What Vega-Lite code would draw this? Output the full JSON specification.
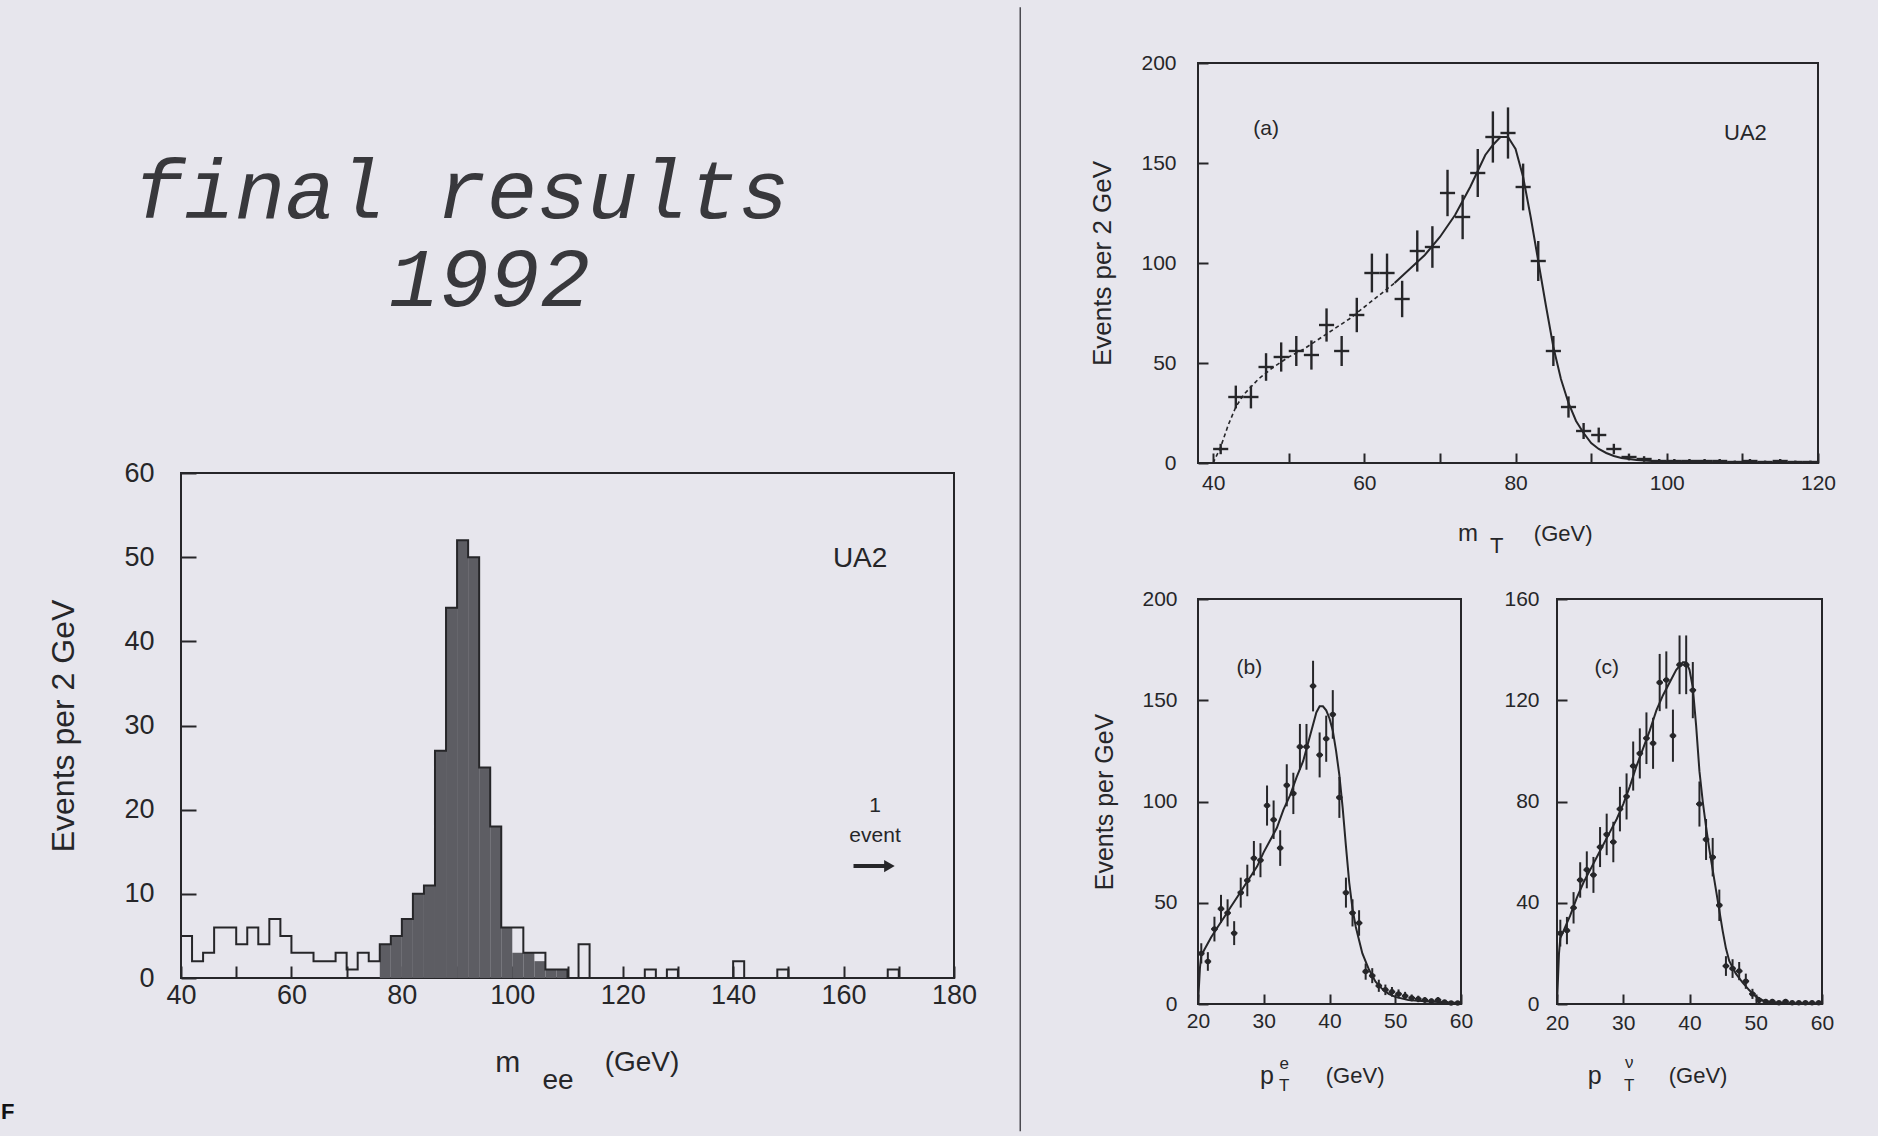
{
"$schema": "https://vega.github.io/schema/vega-lite/v6.json",
"background": "#e7e6ed",
"padding": {"left": 0, "top": 5, "right": 60, "bottom": 40},
"config": {
  "font": "Liberation Sans",
  "view": {"stroke": "#262629", "strokeWidth": 2},
  "axis": {"grid": false, "domain": false, "tickColor": "#262629", "tickWidth": 2, "labelColor": "#262629", "titleColor": "#262629", "labelFont": "Liberation Sans", "titleFont": "Liberation Sans", "titleFontWeight": "normal", "labelFlush": false, "labelOverlap": false}
},
"datasets": {
  "hist": [
    {"lo":40,"hi":42,"n":5,"s":0},{"lo":42,"hi":44,"n":2,"s":0},{"lo":44,"hi":46,"n":3,"s":0},{"lo":46,"hi":48,"n":6,"s":0},
    {"lo":48,"hi":50,"n":6,"s":0},{"lo":50,"hi":52,"n":4,"s":0},{"lo":52,"hi":54,"n":6,"s":0},{"lo":54,"hi":56,"n":4,"s":0},
    {"lo":56,"hi":58,"n":7,"s":0},{"lo":58,"hi":60,"n":5,"s":0},{"lo":60,"hi":62,"n":3,"s":0},{"lo":62,"hi":64,"n":3,"s":0},
    {"lo":64,"hi":66,"n":2,"s":0},{"lo":66,"hi":68,"n":2,"s":0},{"lo":68,"hi":70,"n":3,"s":0},{"lo":70,"hi":72,"n":1,"s":0},
    {"lo":72,"hi":74,"n":3,"s":0},{"lo":74,"hi":76,"n":2,"s":0},{"lo":76,"hi":78,"n":4,"s":4},{"lo":78,"hi":80,"n":5,"s":5},
    {"lo":80,"hi":82,"n":7,"s":7},{"lo":82,"hi":84,"n":10,"s":10},{"lo":84,"hi":86,"n":11,"s":11},{"lo":86,"hi":88,"n":27,"s":27},
    {"lo":88,"hi":90,"n":44,"s":44},{"lo":90,"hi":92,"n":52,"s":52},{"lo":92,"hi":94,"n":50,"s":50},{"lo":94,"hi":96,"n":25,"s":25},
    {"lo":96,"hi":98,"n":18,"s":18},{"lo":98,"hi":100,"n":6,"s":6},{"lo":100,"hi":102,"n":6,"s":3},{"lo":102,"hi":104,"n":3,"s":3},
    {"lo":104,"hi":106,"n":3,"s":2},{"lo":106,"hi":108,"n":1,"s":1},{"lo":108,"hi":110,"n":1,"s":1},{"lo":110,"hi":112,"n":0,"s":0},
    {"lo":112,"hi":114,"n":4,"s":0},{"lo":114,"hi":116,"n":0,"s":0},{"lo":116,"hi":118,"n":0,"s":0},{"lo":118,"hi":120,"n":0,"s":0},
    {"lo":120,"hi":122,"n":0,"s":0},{"lo":122,"hi":124,"n":0,"s":0},{"lo":124,"hi":126,"n":1,"s":0},{"lo":126,"hi":128,"n":0,"s":0},
    {"lo":128,"hi":130,"n":1,"s":0},{"lo":130,"hi":132,"n":0,"s":0},{"lo":132,"hi":134,"n":0,"s":0},{"lo":134,"hi":136,"n":0,"s":0},
    {"lo":136,"hi":138,"n":0,"s":0},{"lo":138,"hi":140,"n":0,"s":0},{"lo":140,"hi":142,"n":2,"s":0},{"lo":142,"hi":144,"n":0,"s":0},
    {"lo":144,"hi":146,"n":0,"s":0},{"lo":146,"hi":148,"n":0,"s":0},{"lo":148,"hi":150,"n":1,"s":0},{"lo":150,"hi":152,"n":0,"s":0},
    {"lo":152,"hi":154,"n":0,"s":0},{"lo":154,"hi":156,"n":0,"s":0},{"lo":156,"hi":158,"n":0,"s":0},{"lo":158,"hi":160,"n":0,"s":0},
    {"lo":160,"hi":162,"n":0,"s":0},{"lo":162,"hi":164,"n":0,"s":0},{"lo":164,"hi":166,"n":0,"s":0},{"lo":166,"hi":168,"n":0,"s":0},
    {"lo":168,"hi":170,"n":1,"s":0},{"lo":170,"hi":172,"n":0,"s":0},{"lo":172,"hi":174,"n":0,"s":0},{"lo":174,"hi":176,"n":0,"s":0},
    {"lo":176,"hi":178,"n":0,"s":0}
  ],
  "ptsA": [
    {"m":41,"lo":40,"hi":42,"n":7,"err":2.6},{"m":43,"lo":42,"hi":44,"n":33,"err":5.7},{"m":45,"lo":44,"hi":46,"n":33,"err":5.7},
    {"m":47,"lo":46,"hi":48,"n":48,"err":6.9},{"m":49,"lo":48,"hi":50,"n":53,"err":7.3},{"m":51,"lo":50,"hi":52,"n":56,"err":7.5},
    {"m":53,"lo":52,"hi":54,"n":54,"err":7.3},{"m":55,"lo":54,"hi":56,"n":69,"err":8.3},{"m":57,"lo":56,"hi":58,"n":56,"err":7.5},
    {"m":59,"lo":58,"hi":60,"n":74,"err":8.6},{"m":61,"lo":60,"hi":62,"n":95,"err":9.7},{"m":63,"lo":62,"hi":64,"n":95,"err":9.7},
    {"m":65,"lo":64,"hi":66,"n":82,"err":9.1},{"m":67,"lo":66,"hi":68,"n":106,"err":10.3},{"m":69,"lo":68,"hi":70,"n":108,"err":10.4},
    {"m":71,"lo":70,"hi":72,"n":135,"err":11.6},{"m":73,"lo":72,"hi":74,"n":123,"err":11.1},{"m":75,"lo":74,"hi":76,"n":145,"err":12},
    {"m":77,"lo":76,"hi":78,"n":163,"err":12.8},{"m":79,"lo":78,"hi":80,"n":165,"err":12.8},{"m":81,"lo":80,"hi":82,"n":138,"err":11.7},
    {"m":83,"lo":82,"hi":84,"n":101,"err":10},{"m":85,"lo":84,"hi":86,"n":56,"err":7.5},{"m":87,"lo":86,"hi":88,"n":28,"err":5.3},
    {"m":89,"lo":88,"hi":90,"n":16,"err":4},{"m":91,"lo":90,"hi":92,"n":14,"err":3.7},{"m":93,"lo":92,"hi":94,"n":7,"err":2.6},
    {"m":95,"lo":94,"hi":96,"n":3,"err":1.7},{"m":97,"lo":96,"hi":98,"n":2,"err":1.4},{"m":99,"lo":98,"hi":100,"n":1,"err":1},
    {"m":101,"lo":100,"hi":102,"n":1,"err":1},{"m":103,"lo":102,"hi":104,"n":1,"err":1},{"m":105,"lo":104,"hi":106,"n":1,"err":1},
    {"m":107,"lo":106,"hi":108,"n":1,"err":1},{"m":109,"lo":108,"hi":110,"n":0.5,"err":0.7},{"m":111,"lo":110,"hi":112,"n":1,"err":1},
    {"m":113,"lo":112,"hi":114,"n":0.5,"err":0.7},{"m":115,"lo":114,"hi":116,"n":1,"err":1},{"m":117,"lo":116,"hi":118,"n":0.5,"err":0.7},
    {"m":119,"lo":118,"hi":120,"n":0.5,"err":0.7}
  ],
  "fitA": [
    {"m":40,"f":0},{"m":41,"f":8},{"m":42,"f":19},{"m":43,"f":28},{"m":44,"f":34},{"m":45,"f":38},{"m":46,"f":42},{"m":48,"f":48},
    {"m":50,"f":53},{"m":52,"f":57},{"m":54,"f":62},{"m":56,"f":67},{"m":58,"f":72},{"m":60,"f":78},{"m":62,"f":84},{"m":64,"f":90},
    {"m":66,"f":97},{"m":68,"f":104},{"m":70,"f":113},{"m":72,"f":124},{"m":74,"f":138},{"m":75,"f":146},{"m":76,"f":154},{"m":77,"f":159},
    {"m":78,"f":163},{"m":79,"f":163},{"m":80,"f":157},{"m":81,"f":143},{"m":82,"f":123},{"m":83,"f":101},{"m":84,"f":79},{"m":85,"f":58},
    {"m":86,"f":42},{"m":87,"f":30},{"m":88,"f":21},{"m":89,"f":15},{"m":90,"f":10},{"m":91,"f":7},{"m":92,"f":5},{"m":93,"f":3.5},
    {"m":94,"f":2.5},{"m":96,"f":1.5},{"m":98,"f":1},{"m":100,"f":0.6},{"m":105,"f":0.3},{"m":110,"f":0.2},{"m":120,"f":0.1}
  ],
  "ptsB": [
    {"p":20.5,"lo":20,"hi":21,"n":25,"err":5},{"p":21.5,"lo":21,"hi":22,"n":21,"err":4.6},{"p":22.5,"lo":22,"hi":23,"n":37,"err":6.1},
    {"p":23.5,"lo":23,"hi":24,"n":47,"err":6.9},{"p":24.5,"lo":24,"hi":25,"n":45,"err":6.7},{"p":25.5,"lo":25,"hi":26,"n":35,"err":5.9},
    {"p":26.5,"lo":26,"hi":27,"n":55,"err":7.4},{"p":27.5,"lo":27,"hi":28,"n":61,"err":7.8},{"p":28.5,"lo":28,"hi":29,"n":72,"err":8.5},
    {"p":29.5,"lo":29,"hi":30,"n":71,"err":8.4},{"p":30.5,"lo":30,"hi":31,"n":98,"err":9.9},{"p":31.5,"lo":31,"hi":32,"n":91,"err":9.5},
    {"p":32.5,"lo":32,"hi":33,"n":77,"err":8.8},{"p":33.5,"lo":33,"hi":34,"n":108,"err":10.4},{"p":34.5,"lo":34,"hi":35,"n":104,"err":10.2},
    {"p":35.5,"lo":35,"hi":36,"n":127,"err":11.3},{"p":36.5,"lo":36,"hi":37,"n":127,"err":11.3},{"p":37.5,"lo":37,"hi":38,"n":157,"err":12.5},
    {"p":38.5,"lo":38,"hi":39,"n":123,"err":11.1},{"p":39.5,"lo":39,"hi":40,"n":131,"err":11.4},{"p":40.5,"lo":40,"hi":41,"n":143,"err":12},
    {"p":41.5,"lo":41,"hi":42,"n":102,"err":10.1},{"p":42.5,"lo":42,"hi":43,"n":55,"err":7.4},{"p":43.5,"lo":43,"hi":44,"n":45,"err":6.7},
    {"p":44.5,"lo":44,"hi":45,"n":40,"err":6.3},{"p":45.5,"lo":45,"hi":46,"n":16,"err":4},{"p":46.5,"lo":46,"hi":47,"n":14,"err":3.7},
    {"p":47.5,"lo":47,"hi":48,"n":9,"err":3},{"p":48.5,"lo":48,"hi":49,"n":7,"err":2.6},{"p":49.5,"lo":49,"hi":50,"n":6,"err":2.4},
    {"p":50.5,"lo":50,"hi":51,"n":5,"err":2.2},{"p":51.5,"lo":51,"hi":52,"n":4,"err":2},{"p":52.5,"lo":52,"hi":53,"n":3,"err":1.7},
    {"p":53.5,"lo":53,"hi":54,"n":2.5,"err":1.6},{"p":54.5,"lo":54,"hi":55,"n":2,"err":1.4},{"p":55.5,"lo":55,"hi":56,"n":1.5,"err":1.2},
    {"p":56.5,"lo":56,"hi":57,"n":2,"err":1.4},{"p":57.5,"lo":57,"hi":58,"n":1,"err":1},{"p":58.5,"lo":58,"hi":59,"n":0.5,"err":0.7},
    {"p":59.5,"lo":59,"hi":60,"n":0.5,"err":0.7}
  ],
  "fitB": [
    {"p":20,"f":0},{"p":20.3,"f":18},{"p":20.5,"f":24},{"p":21,"f":27},{"p":22,"f":33},{"p":23,"f":38},{"p":24,"f":43},{"p":25,"f":48},
    {"p":26,"f":53},{"p":27,"f":58},{"p":28,"f":63},{"p":29,"f":68},{"p":30,"f":75},{"p":31,"f":81},{"p":32,"f":87},{"p":33,"f":96},
    {"p":34,"f":103},{"p":35,"f":112},{"p":36,"f":120},{"p":37,"f":132},{"p":38,"f":144},{"p":38.5,"f":147},{"p":39,"f":147},
    {"p":39.5,"f":145},{"p":40,"f":141},{"p":40.5,"f":135},{"p":41,"f":125},{"p":41.5,"f":113},{"p":42,"f":97},{"p":42.5,"f":78},
    {"p":43,"f":60},{"p":43.5,"f":47},{"p":44,"f":38},{"p":45,"f":25},{"p":46,"f":17},{"p":47,"f":11},{"p":48,"f":7.5},{"p":49,"f":5},
    {"p":50,"f":3.5},{"p":52,"f":2},{"p":55,"f":1.2},{"p":60,"f":0.5}
  ],
  "ptsC": [
    {"p":20.5,"lo":20,"hi":21,"n":28,"err":5.3},{"p":21.5,"lo":21,"hi":22,"n":29,"err":5.4},{"p":22.5,"lo":22,"hi":23,"n":38,"err":6.2},
    {"p":23.5,"lo":23,"hi":24,"n":49,"err":7},{"p":24.5,"lo":24,"hi":25,"n":53,"err":7.3},{"p":25.5,"lo":25,"hi":26,"n":51,"err":7.1},
    {"p":26.5,"lo":26,"hi":27,"n":62,"err":7.9},{"p":27.5,"lo":27,"hi":28,"n":67,"err":8.2},{"p":28.5,"lo":28,"hi":29,"n":64,"err":8},
    {"p":29.5,"lo":29,"hi":30,"n":77,"err":8.8},{"p":30.5,"lo":30,"hi":31,"n":82,"err":9.1},{"p":31.5,"lo":31,"hi":32,"n":94,"err":9.7},
    {"p":32.5,"lo":32,"hi":33,"n":99,"err":9.9},{"p":33.5,"lo":33,"hi":34,"n":105,"err":10.2},{"p":34.5,"lo":34,"hi":35,"n":103,"err":10.1},
    {"p":35.5,"lo":35,"hi":36,"n":127,"err":11.3},{"p":36.5,"lo":36,"hi":37,"n":128,"err":11.3},{"p":37.5,"lo":37,"hi":38,"n":106,"err":10.3},
    {"p":38.5,"lo":38,"hi":39,"n":134,"err":11.6},{"p":39.5,"lo":39,"hi":40,"n":134,"err":11.6},{"p":40.5,"lo":40,"hi":41,"n":124,"err":11.1},
    {"p":41.5,"lo":41,"hi":42,"n":79,"err":8.9},{"p":42.5,"lo":42,"hi":43,"n":65,"err":8.1},{"p":43.5,"lo":43,"hi":44,"n":58,"err":7.6},
    {"p":44.5,"lo":44,"hi":45,"n":39,"err":6.2},{"p":45.5,"lo":45,"hi":46,"n":15,"err":3.9},{"p":46.5,"lo":46,"hi":47,"n":14,"err":3.7},
    {"p":47.5,"lo":47,"hi":48,"n":13,"err":3.6},{"p":48.5,"lo":48,"hi":49,"n":9,"err":3},{"p":49.5,"lo":49,"hi":50,"n":4,"err":2},
    {"p":50.5,"lo":50,"hi":51,"n":1.5,"err":1.2},{"p":51.5,"lo":51,"hi":52,"n":1,"err":1},{"p":52.5,"lo":52,"hi":53,"n":1,"err":1},
    {"p":53.5,"lo":53,"hi":54,"n":0.5,"err":0.7},{"p":54.5,"lo":54,"hi":55,"n":1,"err":1},{"p":55.5,"lo":55,"hi":56,"n":0.5,"err":0.7},
    {"p":56.5,"lo":56,"hi":57,"n":0.5,"err":0.7},{"p":57.5,"lo":57,"hi":58,"n":0.5,"err":0.7},{"p":58.5,"lo":58,"hi":59,"n":0.5,"err":0.7},
    {"p":59.5,"lo":59,"hi":60,"n":0.5,"err":0.7}
  ],
  "fitC": [
    {"p":20,"f":0},{"p":20.3,"f":20},{"p":20.5,"f":26},{"p":21,"f":29},{"p":22,"f":35},{"p":23,"f":42},{"p":24,"f":48},{"p":25,"f":53},
    {"p":26,"f":58},{"p":27,"f":63},{"p":28,"f":68},{"p":29,"f":73},{"p":30,"f":79},{"p":31,"f":86},{"p":32,"f":94},{"p":33,"f":101},
    {"p":34,"f":108},{"p":35,"f":116},{"p":36,"f":122},{"p":37,"f":127},{"p":38,"f":132},{"p":39,"f":135},{"p":39.5,"f":135},
    {"p":40,"f":132},{"p":40.5,"f":125},{"p":41,"f":110},{"p":41.5,"f":92},{"p":42,"f":80},{"p":42.5,"f":70},{"p":43,"f":61},
    {"p":43.5,"f":53},{"p":44,"f":45},{"p":44.5,"f":37},{"p":45,"f":29},{"p":45.5,"f":22},{"p":46,"f":17},{"p":47,"f":12},
    {"p":48,"f":8.5},{"p":49,"f":5.5},{"p":50,"f":3},{"p":51,"f":1.5},{"p":52,"f":0.8},{"p":55,"f":0.3},{"p":60,"f":0.2}
  ]
},
"bounds": "flush",
"spacing": 1017,
"hconcat": [
  {
    "bounds": "flush",
    "spacing": 60,
    "vconcat": [
      {
        "width": 773, "height": 350,
        "view": {"stroke": null},
        "layer": [
          {
            "data": {"values": [{"line": "final results"}]},
            "mark": {"type": "text", "font": "Liberation Mono", "fontSize": 84, "fontStyle": "italic", "color": "#38383c", "baseline": "middle", "dx": -106, "dy": -45},
            "encoding": {"text": {"field": "line", "type": "nominal"}}
          },
          {
            "data": {"values": [{"line": "1992"}]},
            "mark": {"type": "text", "font": "Liberation Mono", "fontSize": 84, "fontStyle": "italic", "color": "#38383c", "baseline": "middle", "dx": -78, "dy": 43},
            "encoding": {"text": {"field": "line", "type": "nominal"}}
          }
        ]
      },
      {
        "width": 773, "height": 505,
        "layer": [
          {
            "data": {"name": "hist"},
            "transform": [{"filter": "datum.s > 0"}],
            "mark": {"type": "rect", "color": "#5d5d63"},
            "encoding": {
              "x": {"field": "lo", "type": "quantitative", "scale": {"domain": [40, 180], "nice": false, "zero": false},
                    "axis": {"values": [40,50,60,70,80,90,100,110,120,130,140,150,160,170,180], "labelExpr": "datum.value % 20 === 0 ? datum.label : ''", "tickSize": -12, "labelPadding": 16, "labelFontSize": 27, "title": null}},
              "x2": {"field": "hi"},
              "y": {"field": "s", "type": "quantitative", "scale": {"domain": [0, 60], "nice": false},
                    "axis": {"values": [0,10,20,30,40,50,60], "tickSize": -15, "labelPadding": 42, "labelFontSize": 27, "title": "Events per 2 GeV", "titleFontSize": 32, "titlePadding": 43}},
              "y2": {"datum": 0}
            }
          },
          {
            "data": {"name": "hist"},
            "mark": {"type": "line", "interpolate": "step-after", "color": "#262629", "strokeWidth": 2},
            "encoding": {
              "x": {"field": "lo", "type": "quantitative", "scale": {"domain": [40, 180], "nice": false, "zero": false}},
              "y": {"field": "n", "type": "quantitative", "scale": {"domain": [0, 60], "nice": false}}
            }
          },
          {
            "data": {"values": [{}]},
            "mark": {"type": "text", "fontSize": 28, "color": "#262629"},
            "encoding": {
              "x": {"datum": 163, "type": "quantitative", "scale": {"domain": [40, 180], "nice": false, "zero": false}},
              "y": {"datum": 49.8, "type": "quantitative", "scale": {"domain": [0, 60], "nice": false}},
              "text": {"value": "UA2"}
            }
          },
          {
            "data": {"values": [{}]},
            "mark": {"type": "text", "fontSize": 21, "color": "#262629"},
            "encoding": {
              "x": {"datum": 165.7, "type": "quantitative", "scale": {"domain": [40, 180], "nice": false, "zero": false}},
              "y": {"datum": 20.4, "type": "quantitative", "scale": {"domain": [0, 60], "nice": false}},
              "text": {"value": "1"}
            }
          },
          {
            "data": {"values": [{}]},
            "mark": {"type": "text", "fontSize": 21, "color": "#262629"},
            "encoding": {
              "x": {"datum": 165.7, "type": "quantitative", "scale": {"domain": [40, 180], "nice": false, "zero": false}},
              "y": {"datum": 16.9, "type": "quantitative", "scale": {"domain": [0, 60], "nice": false}},
              "text": {"value": "event"}
            }
          },
          {
            "data": {"values": [{}]},
            "mark": {"type": "rule", "color": "#262629", "strokeWidth": 4},
            "encoding": {
              "x": {"datum": 161.8, "type": "quantitative", "scale": {"domain": [40, 180], "nice": false, "zero": false}},
              "x2": {"datum": 167.6},
              "y": {"datum": 13.3, "type": "quantitative", "scale": {"domain": [0, 60], "nice": false}}
            }
          },
          {
            "data": {"values": [{}]},
            "mark": {"type": "point", "shape": "triangle-right", "filled": true, "size": 150, "color": "#262629", "opacity": 1},
            "encoding": {
              "x": {"datum": 168.3, "type": "quantitative", "scale": {"domain": [40, 180], "nice": false, "zero": false}},
              "y": {"datum": 13.3, "type": "quantitative", "scale": {"domain": [0, 60], "nice": false}}
            }
          },
          {
            "data": {"values": [{}]},
            "mark": {"type": "text", "fontSize": 30, "color": "#262629"},
            "encoding": {
              "x": {"datum": 99.2, "type": "quantitative", "scale": {"domain": [40, 180], "nice": false, "zero": false}},
              "y": {"datum": -10.1, "type": "quantitative", "scale": {"domain": [0, 60], "nice": false}},
              "text": {"value": "m"}
            }
          },
          {
            "data": {"values": [{}]},
            "mark": {"type": "text", "fontSize": 28, "color": "#262629"},
            "encoding": {
              "x": {"datum": 108.3, "type": "quantitative", "scale": {"domain": [40, 180], "nice": false, "zero": false}},
              "y": {"datum": -12.2, "type": "quantitative", "scale": {"domain": [0, 60], "nice": false}},
              "text": {"value": "ee"}
            }
          },
          {
            "data": {"values": [{}]},
            "mark": {"type": "text", "fontSize": 28, "color": "#262629"},
            "encoding": {
              "x": {"datum": 123.5, "type": "quantitative", "scale": {"domain": [40, 180], "nice": false, "zero": false}},
              "y": {"datum": -10.1, "type": "quantitative", "scale": {"domain": [0, 60], "nice": false}},
              "text": {"value": "(GeV)"}
            }
          },
          {
            "data": {"values": [{}]},
            "mark": {"type": "text", "fontSize": 22, "fontWeight": "bold", "color": "#111114", "align": "left"},
            "encoding": {
              "x": {"datum": 7.4, "type": "quantitative", "scale": {"domain": [40, 180], "nice": false, "zero": false}},
              "y": {"datum": -15.9, "type": "quantitative", "scale": {"domain": [0, 60], "nice": false}},
              "text": {"value": "F"}
            }
          },
          {
            "data": {"values": [{}]},
            "mark": {"type": "rule", "color": "#4a4a50", "strokeWidth": 1.5},
            "encoding": {
              "x": {"datum": 192.0, "type": "quantitative", "scale": {"domain": [40, 180], "nice": false, "zero": false}},
              "y": {"datum": 115.35, "type": "quantitative", "scale": {"domain": [0, 60], "nice": false}},
              "y2": {"datum": -18.2}
            }
          }
        ]
      }
    ]
  },
  {
    "bounds": "flush",
    "spacing": 136,
    "vconcat": [
      {
        "width": 620, "height": 400,
        "layer": [
          {
            "data": {"name": "fitA"},
            "transform": [{"filter": "datum.m >= 64"}],
            "mark": {"type": "line", "color": "#262629", "strokeWidth": 2},
            "encoding": {
              "x": {"field": "m", "type": "quantitative", "scale": {"domain": [38, 120], "nice": false, "zero": false},
                    "axis": {"values": [40,50,60,70,80,90,100,110,120], "labelExpr": "datum.value % 20 === 0 ? datum.label : ''", "tickSize": -10, "labelPadding": 19, "labelFontSize": 21, "title": null}},
              "y": {"field": "f", "type": "quantitative", "scale": {"domain": [0, 200], "nice": false},
                    "axis": {"values": [0,50,100,150,200], "tickSize": -10, "labelPadding": 32, "labelFontSize": 21, "title": "Events per 2 GeV", "titleFontSize": 26, "titlePadding": 25}}
            }
          },
          {
            "data": {"name": "fitA"},
            "transform": [{"filter": "datum.m <= 64"}],
            "mark": {"type": "line", "color": "#262629", "strokeWidth": 1.6, "strokeDash": [4, 3]},
            "encoding": {
              "x": {"field": "m", "type": "quantitative", "scale": {"domain": [38, 120], "nice": false, "zero": false}},
              "y": {"field": "f", "type": "quantitative", "scale": {"domain": [0, 200], "nice": false}}
            }
          },
          {
            "data": {"name": "ptsA"},
            "mark": {"type": "errorbar", "thickness": 2.4, "color": "#262629"},
            "encoding": {
              "x": {"field": "m", "type": "quantitative", "scale": {"domain": [38, 120], "nice": false, "zero": false}},
              "y": {"field": "n", "type": "quantitative", "scale": {"domain": [0, 200], "nice": false}, "title": "Events per 2 GeV"},
              "yError": {"field": "err"}
            }
          },
          {
            "data": {"name": "ptsA"},
            "mark": {"type": "rule", "color": "#262629", "strokeWidth": 2.4},
            "encoding": {
              "x": {"field": "lo", "type": "quantitative", "scale": {"domain": [38, 120], "nice": false, "zero": false}},
              "x2": {"field": "hi"},
              "y": {"field": "n", "type": "quantitative", "scale": {"domain": [0, 200], "nice": false}}
            }
          },
          {
            "data": {"values": [{}]},
            "mark": {"type": "text", "fontSize": 21, "color": "#262629"},
            "encoding": {
              "x": {"datum": 47, "type": "quantitative", "scale": {"domain": [38, 120], "nice": false, "zero": false}},
              "y": {"datum": 167, "type": "quantitative", "scale": {"domain": [0, 200], "nice": false}},
              "text": {"value": "(a)"}
            }
          },
          {
            "data": {"values": [{}]},
            "mark": {"type": "text", "fontSize": 22, "color": "#262629"},
            "encoding": {
              "x": {"datum": 110.4, "type": "quantitative", "scale": {"domain": [38, 120], "nice": false, "zero": false}},
              "y": {"datum": 165, "type": "quantitative", "scale": {"domain": [0, 200], "nice": false}},
              "text": {"value": "UA2"}
            }
          },
          {
            "data": {"values": [{}]},
            "mark": {"type": "text", "fontSize": 24, "color": "#262629"},
            "encoding": {
              "x": {"datum": 73.7, "type": "quantitative", "scale": {"domain": [38, 120], "nice": false, "zero": false}},
              "y": {"datum": -35.5, "type": "quantitative", "scale": {"domain": [0, 200], "nice": false}},
              "text": {"value": "m"}
            }
          },
          {
            "data": {"values": [{}]},
            "mark": {"type": "text", "fontSize": 22, "color": "#262629"},
            "encoding": {
              "x": {"datum": 77.5, "type": "quantitative", "scale": {"domain": [38, 120], "nice": false, "zero": false}},
              "y": {"datum": -41.5, "type": "quantitative", "scale": {"domain": [0, 200], "nice": false}},
              "text": {"value": "T"}
            }
          },
          {
            "data": {"values": [{}]},
            "mark": {"type": "text", "fontSize": 22, "color": "#262629"},
            "encoding": {
              "x": {"datum": 86.3, "type": "quantitative", "scale": {"domain": [38, 120], "nice": false, "zero": false}},
              "y": {"datum": -35.5, "type": "quantitative", "scale": {"domain": [0, 200], "nice": false}},
              "text": {"value": "(GeV)"}
            }
          }
        ]
      },
      {
        "bounds": "flush",
        "spacing": 96,
        "hconcat": [
          {
            "width": 263, "height": 405,
            "layer": [
              {
                "data": {"name": "fitB"},
                "mark": {"type": "line", "color": "#262629", "strokeWidth": 2},
                "encoding": {
                  "x": {"field": "p", "type": "quantitative", "scale": {"domain": [20, 60], "nice": false, "zero": false},
                        "axis": {"values": [20,30,40,50,60], "tickSize": -10, "labelPadding": 16, "labelFontSize": 21, "title": null}},
                  "y": {"field": "f", "type": "quantitative", "scale": {"domain": [0, 200], "nice": false},
                        "axis": {"values": [0,50,100,150,200], "tickSize": -10, "labelPadding": 31, "labelFontSize": 21, "title": "Events per GeV", "titleFontSize": 25, "titlePadding": 24}}
                }
              },
              {
                "data": {"name": "ptsB"},
                "mark": {"type": "errorbar", "thickness": 2, "color": "#262629"},
                "encoding": {
                  "x": {"field": "p", "type": "quantitative", "scale": {"domain": [20, 60], "nice": false, "zero": false}},
                  "y": {"field": "n", "type": "quantitative", "scale": {"domain": [0, 200], "nice": false}, "title": "Events per GeV"},
                  "yError": {"field": "err"}
                }
              },
              {
                "data": {"name": "ptsB"},
                "mark": {"type": "rule", "color": "#262629", "strokeWidth": 2},
                "encoding": {
                  "x": {"field": "lo", "type": "quantitative", "scale": {"domain": [20, 60], "nice": false, "zero": false}},
                  "x2": {"field": "hi"},
                  "y": {"field": "n", "type": "quantitative", "scale": {"domain": [0, 200], "nice": false}}
                }
              },
              {
                "data": {"name": "ptsB"},
                "mark": {"type": "point", "filled": true, "size": 30, "color": "#262629", "opacity": 1},
                "encoding": {
                  "x": {"field": "p", "type": "quantitative", "scale": {"domain": [20, 60], "nice": false, "zero": false}},
                  "y": {"field": "n", "type": "quantitative", "scale": {"domain": [0, 200], "nice": false}}
                }
              },
              {
                "data": {"values": [{}]},
                "mark": {"type": "text", "fontSize": 21, "color": "#262629"},
                "encoding": {
                  "x": {"datum": 27.8, "type": "quantitative", "scale": {"domain": [20, 60], "nice": false, "zero": false}},
                  "y": {"datum": 166, "type": "quantitative", "scale": {"domain": [0, 200], "nice": false}},
                  "text": {"value": "(b)"}
                }
              },
              {
                "data": {"values": [{}]},
                "mark": {"type": "text", "fontSize": 25, "color": "#262629"},
                "encoding": {
                  "x": {"datum": 30.5, "type": "quantitative", "scale": {"domain": [20, 60], "nice": false, "zero": false}},
                  "y": {"datum": -35.6, "type": "quantitative", "scale": {"domain": [0, 200], "nice": false}},
                  "text": {"value": "p"}
                }
              },
              {
                "data": {"values": [{}]},
                "mark": {"type": "text", "fontSize": 17, "color": "#262629"},
                "encoding": {
                  "x": {"datum": 33.1, "type": "quantitative", "scale": {"domain": [20, 60], "nice": false, "zero": false}},
                  "y": {"datum": -29.5, "type": "quantitative", "scale": {"domain": [0, 200], "nice": false}},
                  "text": {"value": "e"}
                }
              },
              {
                "data": {"values": [{}]},
                "mark": {"type": "text", "fontSize": 17, "color": "#262629"},
                "encoding": {
                  "x": {"datum": 33.1, "type": "quantitative", "scale": {"domain": [20, 60], "nice": false, "zero": false}},
                  "y": {"datum": -40.6, "type": "quantitative", "scale": {"domain": [0, 200], "nice": false}},
                  "text": {"value": "T"}
                }
              },
              {
                "data": {"values": [{}]},
                "mark": {"type": "text", "fontSize": 22, "color": "#262629"},
                "encoding": {
                  "x": {"datum": 43.9, "type": "quantitative", "scale": {"domain": [20, 60], "nice": false, "zero": false}},
                  "y": {"datum": -35.6, "type": "quantitative", "scale": {"domain": [0, 200], "nice": false}},
                  "text": {"value": "(GeV)"}
                }
              }
            ]
          },
          {
            "width": 265, "height": 405,
            "layer": [
              {
                "data": {"name": "fitC"},
                "mark": {"type": "line", "color": "#262629", "strokeWidth": 2},
                "encoding": {
                  "x": {"field": "p", "type": "quantitative", "scale": {"domain": [20, 60], "nice": false, "zero": false},
                        "axis": {"values": [20,30,40,50,60], "tickSize": -10, "labelPadding": 18, "labelFontSize": 21, "title": null}},
                  "y": {"field": "f", "type": "quantitative", "scale": {"domain": [0, 160], "nice": false},
                        "axis": {"values": [0,40,80,120,160], "tickSize": -10, "labelPadding": 28, "labelFontSize": 21, "title": null}}
                }
              },
              {
                "data": {"name": "ptsC"},
                "mark": {"type": "errorbar", "thickness": 2, "color": "#262629"},
                "encoding": {
                  "x": {"field": "p", "type": "quantitative", "scale": {"domain": [20, 60], "nice": false, "zero": false}},
                  "y": {"field": "n", "type": "quantitative", "scale": {"domain": [0, 160], "nice": false}},
                  "yError": {"field": "err"}
                }
              },
              {
                "data": {"name": "ptsC"},
                "mark": {"type": "rule", "color": "#262629", "strokeWidth": 2},
                "encoding": {
                  "x": {"field": "lo", "type": "quantitative", "scale": {"domain": [20, 60], "nice": false, "zero": false}},
                  "x2": {"field": "hi"},
                  "y": {"field": "n", "type": "quantitative", "scale": {"domain": [0, 160], "nice": false}}
                }
              },
              {
                "data": {"name": "ptsC"},
                "mark": {"type": "point", "filled": true, "size": 30, "color": "#262629", "opacity": 1},
                "encoding": {
                  "x": {"field": "p", "type": "quantitative", "scale": {"domain": [20, 60], "nice": false, "zero": false}},
                  "y": {"field": "n", "type": "quantitative", "scale": {"domain": [0, 160], "nice": false}}
                }
              },
              {
                "data": {"values": [{}]},
                "mark": {"type": "text", "fontSize": 21, "color": "#262629"},
                "encoding": {
                  "x": {"datum": 27.5, "type": "quantitative", "scale": {"domain": [20, 60], "nice": false, "zero": false}},
                  "y": {"datum": 132.7, "type": "quantitative", "scale": {"domain": [0, 160], "nice": false}},
                  "text": {"value": "(c)"}
                }
              },
              {
                "data": {"values": [{}]},
                "mark": {"type": "text", "fontSize": 25, "color": "#262629"},
                "encoding": {
                  "x": {"datum": 25.7, "type": "quantitative", "scale": {"domain": [20, 60], "nice": false, "zero": false}},
                  "y": {"datum": -28.5, "type": "quantitative", "scale": {"domain": [0, 160], "nice": false}},
                  "text": {"value": "p"}
                }
              },
              {
                "data": {"values": [{}]},
                "mark": {"type": "text", "fontSize": 17, "color": "#262629"},
                "encoding": {
                  "x": {"datum": 30.9, "type": "quantitative", "scale": {"domain": [20, 60], "nice": false, "zero": false}},
                  "y": {"datum": -23.2, "type": "quantitative", "scale": {"domain": [0, 160], "nice": false}},
                  "text": {"value": "ν"}
                }
              },
              {
                "data": {"values": [{}]},
                "mark": {"type": "text", "fontSize": 17, "color": "#262629"},
                "encoding": {
                  "x": {"datum": 30.9, "type": "quantitative", "scale": {"domain": [20, 60], "nice": false, "zero": false}},
                  "y": {"datum": -32.3, "type": "quantitative", "scale": {"domain": [0, 160], "nice": false}},
                  "text": {"value": "T"}
                }
              },
              {
                "data": {"values": [{}]},
                "mark": {"type": "text", "fontSize": 22, "color": "#262629"},
                "encoding": {
                  "x": {"datum": 41.3, "type": "quantitative", "scale": {"domain": [20, 60], "nice": false, "zero": false}},
                  "y": {"datum": -28.5, "type": "quantitative", "scale": {"domain": [0, 160], "nice": false}},
                  "text": {"value": "(GeV)"}
                }
              }
            ]
          }
        ]
      }
    ]
  }
]
}
